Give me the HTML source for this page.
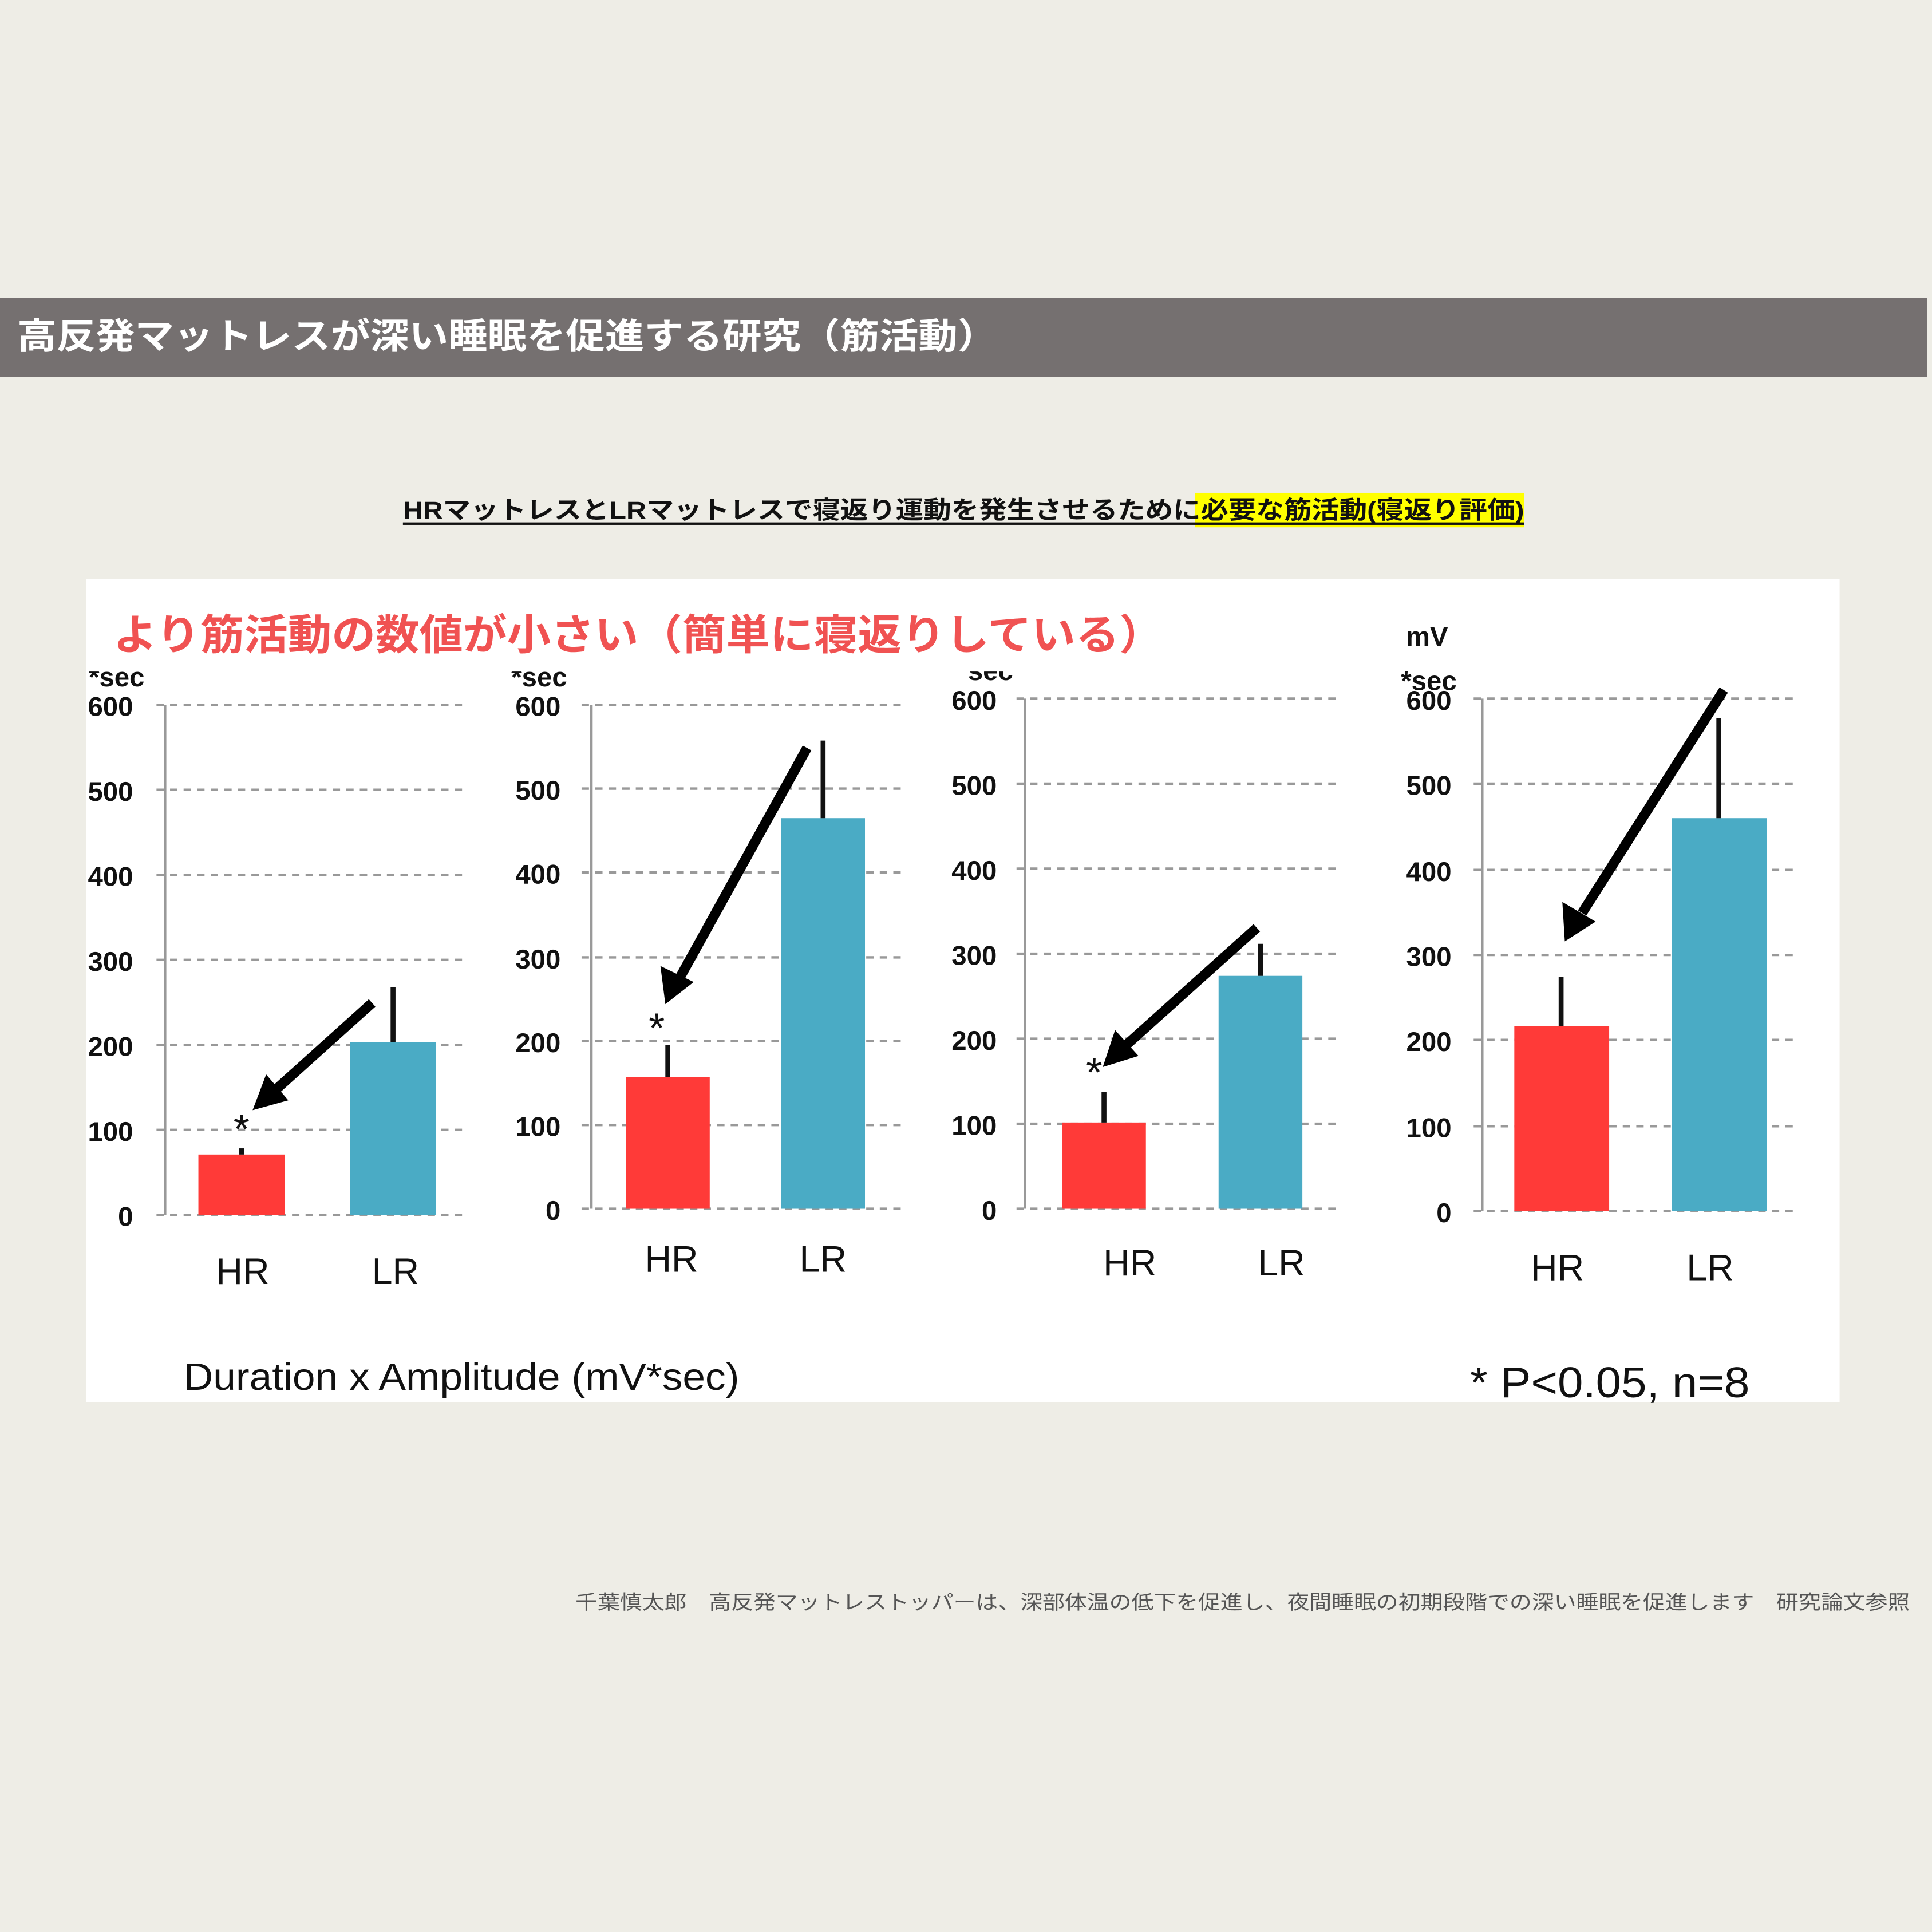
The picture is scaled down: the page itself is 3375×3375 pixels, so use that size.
<!DOCTYPE html>
<html><head><meta charset="utf-8"><style>
html,body{margin:0;padding:0;background:#eeede6;}
svg{display:block;}
text{font-family:"Liberation Sans","Noto Sans CJK JP",sans-serif;}
</style></head><body>
<svg width="3375" height="3375" viewBox="0 0 1568 1568" xmlns="http://www.w3.org/2000/svg">
<rect width="1568" height="1568" fill="#eeede6"/>
<rect x="0" y="242" width="1564" height="64" fill="#757070"/>
<text x="14" y="283" font-size="29" font-weight="bold" fill="#fff" textLength="795" lengthAdjust="spacingAndGlyphs">高反発マットレスが深い睡眠を促進する研究（筋活動）</text>
<rect x="970" y="400" width="267" height="28" fill="#ffff00"/>
<text x="327" y="421" font-size="20" font-weight="bold" fill="#111" textLength="910" lengthAdjust="spacingAndGlyphs">HRマットレスとLRマットレスで寝返り運動を発生させるために必要な筋活動(寝返り評価)</text>
<rect x="327" y="424" width="910" height="2" fill="#111"/>
<rect x="70" y="470" width="1423" height="668" fill="#fff"/>
<text x="92" y="527" font-size="34" font-weight="bold" fill="#f05252" textLength="852" lengthAdjust="spacingAndGlyphs">より筋活動の数値が小さい（簡単に寝返りしている）</text>
<text x="1141" y="524" font-size="22" font-weight="bold" fill="#111">mV</text>
<clipPath id="cp"><rect x="0" y="545" width="1568" height="40"/></clipPath>
<g font-size="22" font-weight="bold" fill="#111" clip-path="url(#cp)">
<text x="72" y="557">*sec</text><text x="415" y="557">*sec</text><text x="777" y="552">*sec</text>
</g>
<text x="1137" y="560" font-size="22" font-weight="bold" fill="#111">*sec</text>
<g stroke="#999" stroke-width="2" stroke-dasharray="6,5">
<line x1="127" x2="380" y1="986" y2="986"/><line x1="127" x2="380" y1="917" y2="917"/><line x1="127" x2="380" y1="848" y2="848"/><line x1="127" x2="380" y1="779" y2="779"/><line x1="127" x2="380" y1="710" y2="710"/><line x1="127" x2="380" y1="641" y2="641"/><line x1="127" x2="380" y1="572" y2="572"/>
<line x1="472" x2="732" y1="981" y2="981"/><line x1="472" x2="732" y1="913" y2="913"/><line x1="472" x2="732" y1="845" y2="845"/><line x1="472" x2="732" y1="777" y2="777"/><line x1="472" x2="732" y1="708" y2="708"/><line x1="472" x2="732" y1="640" y2="640"/><line x1="472" x2="732" y1="572" y2="572"/>
<line x1="825" x2="1086" y1="981" y2="981"/><line x1="825" x2="1086" y1="912" y2="912"/><line x1="825" x2="1086" y1="843" y2="843"/><line x1="825" x2="1086" y1="774" y2="774"/><line x1="825" x2="1086" y1="705" y2="705"/><line x1="825" x2="1086" y1="636" y2="636"/><line x1="825" x2="1086" y1="567" y2="567"/>
<line x1="1196" x2="1460" y1="983" y2="983"/><line x1="1196" x2="1460" y1="914" y2="914"/><line x1="1196" x2="1460" y1="844" y2="844"/><line x1="1196" x2="1460" y1="775" y2="775"/><line x1="1196" x2="1460" y1="706" y2="706"/><line x1="1196" x2="1460" y1="636" y2="636"/><line x1="1196" x2="1460" y1="567" y2="567"/>
</g>
<g stroke="#999" stroke-width="2">
<line x1="134" x2="134" y1="572" y2="986"/><line x1="480" x2="480" y1="572" y2="981"/><line x1="832" x2="832" y1="567" y2="981"/><line x1="1203" x2="1203" y1="567" y2="983"/>
</g>
<g font-size="22" font-weight="bold" fill="#111" text-anchor="end">
<text x="108" y="995">0</text><text x="108" y="926">100</text><text x="108" y="857">200</text><text x="108" y="788">300</text><text x="108" y="719">400</text><text x="108" y="650">500</text><text x="108" y="581">600</text>
<text x="455" y="990">0</text><text x="455" y="922">100</text><text x="455" y="854">200</text><text x="455" y="786">300</text><text x="455" y="717">400</text><text x="455" y="649">500</text><text x="455" y="581">600</text>
<text x="809" y="990">0</text><text x="809" y="921">100</text><text x="809" y="852">200</text><text x="809" y="783">300</text><text x="809" y="714">400</text><text x="809" y="645">500</text><text x="809" y="576">600</text>
<text x="1178" y="992">0</text><text x="1178" y="923">100</text><text x="1178" y="853">200</text><text x="1178" y="784">300</text><text x="1178" y="715">400</text><text x="1178" y="645">500</text><text x="1178" y="576">600</text>
</g>
<g fill="#ff3a38">
<rect x="161" y="937" width="70" height="49"/><rect x="508" y="874" width="68" height="107"/><rect x="862" y="911" width="68" height="70"/><rect x="1229" y="833" width="77" height="150"/>
</g>
<g fill="#4aabc5">
<rect x="284" y="846" width="70" height="140"/><rect x="634" y="664" width="68" height="317"/><rect x="989" y="792" width="68" height="189"/><rect x="1357" y="664" width="77" height="319"/>
</g>
<g stroke="#111" stroke-width="4">
<line x1="196" x2="196" y1="932" y2="937"/><line x1="319" x2="319" y1="801" y2="846"/>
<line x1="542" x2="542" y1="848" y2="874"/><line x1="668" x2="668" y1="601" y2="664"/>
<line x1="896" x2="896" y1="886" y2="911"/><line x1="1023" x2="1023" y1="766" y2="792"/>
<line x1="1267" x2="1267" y1="793" y2="833"/><line x1="1395" x2="1395" y1="583" y2="664"/>
</g>
<g stroke="#000" stroke-width="8">
<line x1="302" y1="814" x2="222" y2="886"/>
<line x1="655" y1="607" x2="552" y2="793"/>
<line x1="1020" y1="753" x2="912" y2="850"/>
<line x1="1399" y1="560" x2="1284" y2="741"/>
</g>
<g fill="#000">
<polygon points="205,901 216,872 234,893"/>
<polygon points="540,815 536,784 563,797"/>
<polygon points="895,866 905,836 924,857"/>
<polygon points="1270,764 1268,732 1295,748"/>
</g>
<g font-size="34" fill="#111" text-anchor="middle">
<text x="196" y="928">*</text><text x="533" y="846">*</text><text x="888" y="882">*</text>
</g>
<g font-size="30" fill="#111" text-anchor="middle">
<text x="197" y="1042">HR</text><text x="321" y="1042">LR</text>
<text x="545" y="1032">HR</text><text x="668" y="1032">LR</text>
<text x="917" y="1035">HR</text><text x="1040" y="1035">LR</text>
<text x="1264" y="1039">HR</text><text x="1388" y="1039">LR</text>
</g>
<text x="149" y="1128" font-size="31" fill="#111" textLength="451" lengthAdjust="spacingAndGlyphs">Duration x Amplitude (mV*sec)</text>
<text x="1193" y="1134" font-size="35" fill="#111" textLength="227" lengthAdjust="spacingAndGlyphs">* P&lt;0.05, n=8</text>
<text x="467" y="1306" font-size="16" fill="#555" textLength="1083" lengthAdjust="spacingAndGlyphs">千葉慎太郎　高反発マットレストッパーは、深部体温の低下を促進し、夜間睡眠の初期段階での深い睡眠を促進します　研究論文参照</text>
</svg>
</body></html>
